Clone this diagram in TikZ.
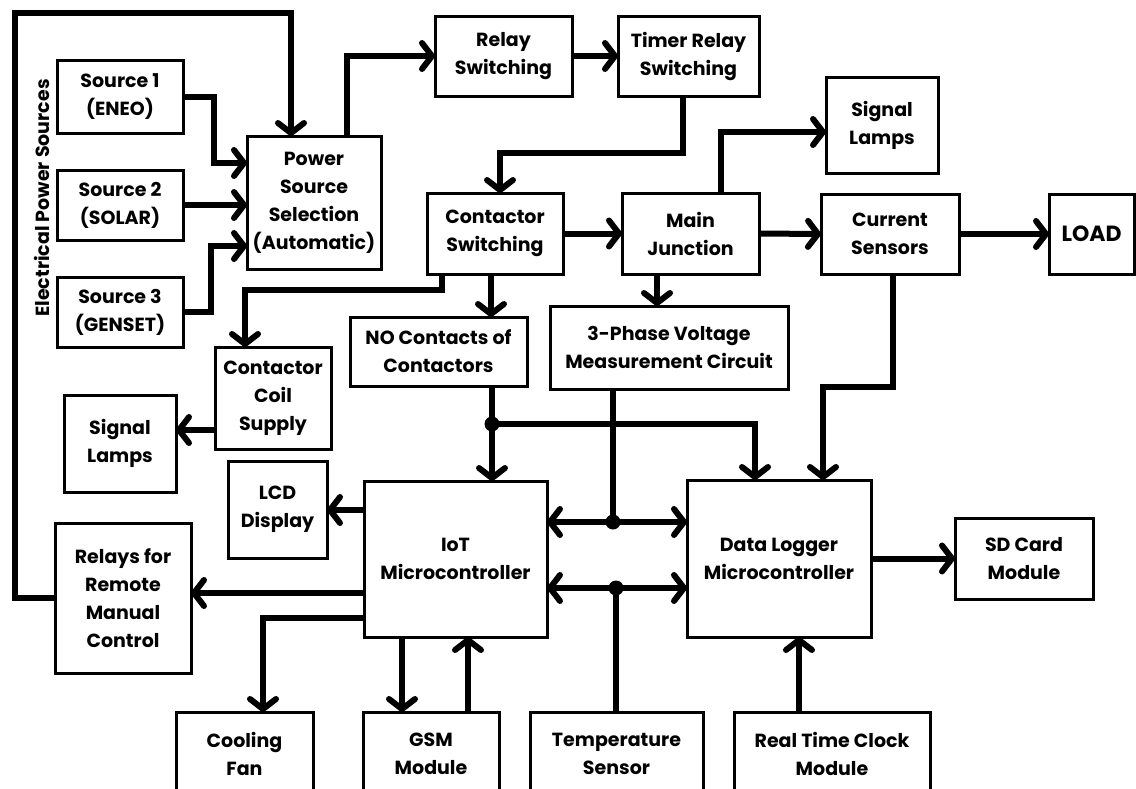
\documentclass[tikz,border=0pt]{standalone}
\usepackage{fontspec}
\setmainfont{Poppins}
\usetikzlibrary{arrows.meta,calc}
\newcommand\bx[6]{\node[box, minimum width=#4pt, minimum height=#5pt] (#1) at (#2,#3) {#6};}
\begin{document}
\begin{tikzpicture}[x=1pt,y=-1pt,
  box/.style={draw, line width=3pt, inner sep=0pt, outer sep=0pt, align=center, font=\bfseries\fontsize{19}{28}\selectfont},
  conn/.style={line width=6pt, line join=miter},
  arr/.style={conn, -{Straight Barb[length=10pt,width=26pt,line cap=round,line join=round]}},
  jdot/.style={circle, fill, inner sep=0pt, minimum size=15pt}]
\path[use as bounding box, clip] (0,0) rectangle (1136,788);
\fill[white] (0,0) rectangle (1136,788);
% boxes
\bx{s1}{120}{96.5}{126}{73}{Source 1\\(ENEO)}
\bx{s2}{120}{205}{126}{70}{Source 2\\(SOLAR)}
\bx{s3}{120}{312}{126}{70}{Source 3\\(GENSET)}
\bx{pss}{314}{202.5}{134}{133}{Power\\Source\\Selection\\(Automatic)}
\bx{relay}{503.5}{56}{137}{80}{Relay\\Switching}
\bx{timer}{688.5}{56}{141}{80}{Timer Relay\\Switching}
\bx{cs}{495}{233.5}{136}{81}{Contactor\\Switching}
\bx{mj}{690.5}{233.5}{137}{81}{Main\\Junction}
\bx{slt}{882}{125}{112}{96}{Signal\\Lamps}
\bx{cur}{890}{234}{138}{80}{Current\\Sensors}
\node[box, minimum width=85pt, minimum height=80pt, font=\bfseries\fontsize{22}{28}\selectfont] (load) at (1091.5,234) {LOAD};
\bx{noc}{438.5}{351.5}{177}{69}{NO Contacts of\\Contactors}
\bx{v3}{669}{347.5}{238}{83}{3-Phase Voltage\\Measurement Circuit}
\bx{coil}{273}{398}{116}{102}{Contactor\\Coil\\Supply}
\bx{sll}{120}{443.5}{112}{97}{Signal\\Lamps}
\bx{lcd}{277.5}{509.5}{99}{97}{LCD\\Display}
\bx{iot}{455.5}{559}{183}{156}{IoT\\Microcontroller}
\bx{dl}{779}{558.5}{184}{157}{Data Logger\\Microcontroller}
\bx{sd}{1024}{558.5}{138}{81}{SD Card\\Module}
\bx{rel}{123}{598}{136}{150}{Relays for\\Remote\\Manual\\Control}
\bx{fan}{244.5}{754}{137}{84}{Cooling\\Fan}
\bx{gsm}{431}{754}{136}{84}{GSM\\Module}
\bx{temp}{616.5}{754}{173}{84}{Temperature\\Sensor}
\bx{rtc}{832}{754}{196}{84}{Real Time Clock\\Module}
\node[rotate=90, font=\bfseries\fontsize{19}{28}\selectfont] (eps) at (42,198) {Electrical Power Sources};
% junction points
\coordinate (j1) at (492,424);
\coordinate (j2) at (613,522);
\coordinate (j3) at (616,588);
% connectors
\draw[arr] (rel.west) -- (15,598) -- (15,13) -| (pss.north -| 291,0);
\draw[arr] (s1.east) -- (214,96.5) |- (pss.west |- 0,163);
\draw[arr] (s2.east) -- (pss.west |- s2.east);
\draw[arr] (s3.east) -- (211,312) |- (pss.west |- 0,246);
\draw[arr] (pss.north -| 347,0) |- (relay.west);
\draw[arr] (relay.east) -- (timer.west);
\draw[arr] (timer.south -| 683,0) -- (683,153) -| (cs.north -| 500,0);
\draw[arr] (cs.east) -- (mj.west);
\draw[arr] (mj.north -| 721,0) |- (slt.west |- 0,132);
\draw[arr] (mj.east) -- (cur.west);
\draw[arr] (cur.east) -- (load.west);
\draw[arr] (cs.south -| 491,0) -- (noc.north -| 491,0);
\draw[arr] (mj.south -| 657,0) -- (v3.north -| 657,0);
\draw[arr] (cs.south -| 442,0) -- (442,290) -| (coil.north -| 245,0);
\draw[arr] (coil.west |- 0,430) -- (sll.east |- 0,430);
\draw[arr] (noc.south -| j1) -- (iot.north -| j1);
\draw[arr] (j1) -| (dl.north -| 755,0);
\draw[conn] (v3.south -| j2) -- (j2);
\draw[arr] (j2) -- (iot.east |- j2);
\draw[arr] (j2) -- (dl.west |- j2);
\draw[conn] (temp.north -| j3) -- (j3);
\draw[arr] (j3) -- (iot.east |- j3);
\draw[arr] (j3) -- (dl.west |- j3);
\draw[arr] (cur.south -| 893,0) -- (893,387) -| (dl.north -| 823,0);
\draw[arr] (dl.east) -- (sd.west);
\draw[arr] (rtc.north -| 799,0) -- (dl.south -| 799,0);
\draw[arr] (iot.west |- 0,510) -- (lcd.east |- 0,510);
\draw[arr] (iot.west |- 0,593) -- (rel.east |- 0,593);
\draw[arr] (iot.west |- 0,618) -| (fan.north -| 263,0);
\draw[arr] (iot.south -| 402,0) -- (gsm.north -| 402,0);
\draw[arr] (gsm.north -| 468,0) -- (iot.south -| 468,0);
\node[jdot] (d1) at (j1) {};
\node[jdot] (d2) at (j2) {};
\node[jdot] (d3) at (j3) {};
\end{tikzpicture}
\end{document}
